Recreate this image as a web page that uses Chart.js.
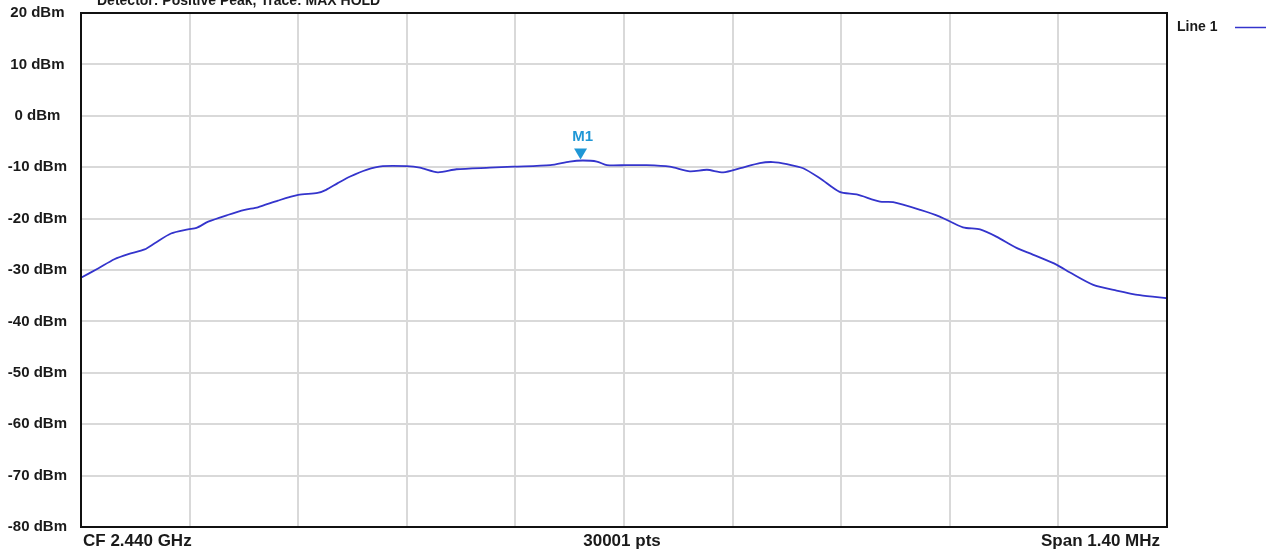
<!DOCTYPE html>
<html>
<head>
<meta charset="utf-8">
<style>
  html, body { margin: 0; padding: 0; background: #ffffff; }
  #wrap { width: 1274px; height: 552px; position: relative; }
</style>
<script src="https://cdn.jsdelivr.net/npm/chart.js@4/dist/chart.umd.min.js"></script>
</head>
<body>
<div id="wrap"><canvas id="spectrum" width="1274" height="552"></canvas></div>
<script>
// Frequency offset from the centre frequency (kHz) and measured level (dBm)
const freqOffsetKHz = [
  -700, -678, -657, -639, -618, -605, -584, -562, -551, -536,
  -511, -489, -472, -446, -420, -395, -384, -369, -353, -332,
  -311, -280, -263, -240, -216, -173, -143, -95, -70, -53,
  -35, -22, 4, 29, 59, 85, 107, 128, 150, 175,
  192, 210, 231, 253, 278, 300, 330, 347, 382, 407,
  437, 459, 480, 506, 527, 558, 575, 605, 635, 665, 700
];
const levelDbm = [
  -31.5, -29.7, -27.9, -26.9, -26.0, -24.8, -22.9, -22.1, -21.8, -20.6,
  -19.3, -18.3, -17.8, -16.5, -15.4, -15.0, -14.4, -13.1, -11.8, -10.5,
  -9.8, -9.8, -10.1, -11.0, -10.4, -10.1, -9.9, -9.6, -8.9, -8.7,
  -8.9, -9.6, -9.6, -9.6, -9.9, -10.8, -10.5, -11.0, -10.2, -9.2,
  -9.0, -9.4, -10.2, -12.2, -14.8, -15.3, -16.7, -16.8, -18.3, -19.6,
  -21.7, -22.1, -23.5, -25.7, -27.0, -29.0, -30.5, -32.9, -34.0, -34.9, -35.5
];

// Axis tick values
const levelTicks = [20, 10, 0, -10, -20, -30, -40, -50, -60, -70, -80];
const freqGridKHz = [-700, -560, -420, -280, -140, 0, 140, 280, 420, 560, 700];

// Footer labels under the plot
const footerLabels = ['CF 2.440 GHz', '30001 pts', 'Span 1.40 MHz'];
const headerText = 'Detector: Positive Peak, Trace: MAX HOLD';
const seriesName = 'Line 1';

// Marker
const markerName = 'M1';
const markerFreqKHz = -56;
const markerLevelDbm = -8.7;

const FONT = '"Liberation Sans", Arial, sans-serif';
const TRACE = '#3434cc';
const MARKER = '#1f97d6';

const frameAndText = {
  id: 'frameAndText',
  afterDraw(chart) {
    const ctx = chart.ctx;
    const a = chart.chartArea;
    const xs = chart.scales.x;
    const ys = chart.scales.y;
    ctx.save();

    // plot frame
    ctx.strokeStyle = '#111111';
    ctx.lineWidth = 2;
    ctx.strokeRect(a.left, a.top, a.right - a.left, a.bottom - a.top);

    // header (partly above the canvas edge)
    ctx.fillStyle = '#1a1a1a';
    ctx.font = 'bold 14px ' + FONT;
    ctx.textAlign = 'left';
    ctx.textBaseline = 'alphabetic';
    ctx.fillText(headerText, 97, 5);

    // footer labels
    ctx.font = 'bold 17px ' + FONT;
    ctx.textBaseline = 'middle';
    ctx.textAlign = 'left';
    ctx.fillText(footerLabels[0], xs.getPixelForValue(-700) + 2, 541);
    ctx.textAlign = 'center';
    ctx.fillText(footerLabels[1], xs.getPixelForValue(0) - 2, 541);
    ctx.textAlign = 'right';
    ctx.fillText(footerLabels[2], xs.getPixelForValue(700) - 7, 541);

    // legend
    ctx.font = 'bold 14px ' + FONT;
    ctx.textAlign = 'left';
    ctx.fillText(seriesName, a.right + 10, 27);
    ctx.strokeStyle = TRACE;
    ctx.lineWidth = 1.5;
    ctx.beginPath();
    ctx.moveTo(a.right + 68, 27.5);
    ctx.lineTo(a.right + 99, 27.5);
    ctx.stroke();

    // marker triangle and name
    const mx = xs.getPixelForValue(markerFreqKHz);
    const my = ys.getPixelForValue(markerLevelDbm) - 1;
    ctx.fillStyle = MARKER;
    ctx.beginPath();
    ctx.moveTo(mx, my);
    ctx.lineTo(mx - 6.5, my - 11);
    ctx.lineTo(mx + 6.5, my - 11);
    ctx.closePath();
    ctx.fill();
    ctx.font = 'bold 15px ' + FONT;
    ctx.textAlign = 'center';
    ctx.textBaseline = 'middle';
    ctx.fillText(markerName, mx + 2, my - 23);

    ctx.restore();
  }
};

new Chart(document.getElementById('spectrum'), {
  type: 'line',
  data: {
    datasets: [{
      label: seriesName,
      data: freqOffsetKHz.map((f, i) => ({ x: f, y: levelDbm[i] })),
      borderColor: TRACE,
      borderWidth: 1.8,
      pointRadius: 0,
      tension: 0.25,
      fill: false
    }]
  },
  options: {
    responsive: false,
    animation: false,
    events: [],
    layout: { padding: { left: 0, right: 107, top: 13, bottom: 0 } },
    plugins: {
      legend: { display: false },
      tooltip: { enabled: false },
      title: { display: false }
    },
    scales: {
      x: {
        type: 'linear',
        min: -700,
        max: 700,
        afterBuildTicks(scale) { scale.ticks = freqGridKHz.map(v => ({ value: v })); },
        afterFit(scale) { scale.height = 25; },
        ticks: { display: false },
        grid: { color: '#d9d9d9', lineWidth: 2, drawTicks: false },
        border: { display: false }
      },
      y: {
        min: -80,
        max: 20,
        afterBuildTicks(scale) { scale.ticks = levelTicks.map(v => ({ value: v })); },
        afterFit(scale) {
          scale.width = 81;
          scale.paddingTop = 0;
          scale.paddingBottom = 0;
        },
        ticks: {
          crossAlign: 'center',
          padding: 14,
          color: '#1a1a1a',
          font: { family: FONT, size: 15, weight: 'bold' },
          callback: v => v + ' dBm'
        },
        grid: { color: '#d9d9d9', lineWidth: 2, drawTicks: false },
        border: { display: false }
      }
    }
  },
  plugins: [frameAndText]
});
</script>
</body>
</html>
